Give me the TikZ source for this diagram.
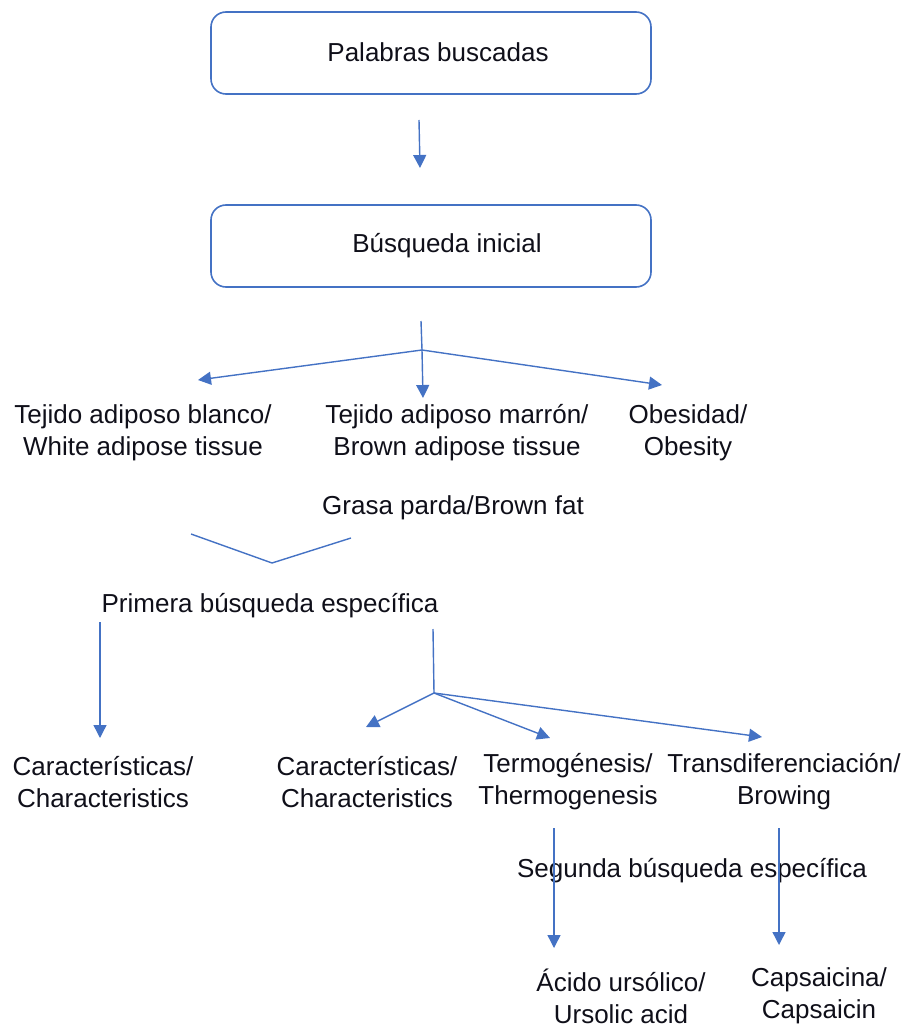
\documentclass[tikz,border=0pt]{standalone}
\usepackage{fontspec}
\setmainfont{Liberation Sans}
\usetikzlibrary{shapes}
\usetikzlibrary{arrows.meta}
\definecolor{lineblue}{RGB}{68,114,196}
\definecolor{textdark}{RGB}{15,15,25}

\begin{document}
\begin{tikzpicture}[x=1pt,y=-1pt]
			\tikzstyle{every node}=[font=\fontsize{26}{32}\selectfont, text=textdark, align=center, inner sep=0pt]
			\tikzstyle{searchbox}=[draw=lineblue, line width=1.6pt, rounded corners=15pt, minimum width=440pt, minimum height=82pt]
			\tikzstyle{flow}=[draw=lineblue, line width=1.4pt, -{Triangle[length=13pt,width=13pt]}]
			\tikzstyle{plain}=[draw=lineblue, line width=1.4pt]

			\useasboundingbox (0,0) rectangle (903,1024);

			% boxes
			\node[searchbox] (palabrasbox) at (431,53) {};
			\node (palabras) at (438,52) {Palabras buscadas};
			\node[searchbox] (inicialbox) at (431,246) {};
			\node (inicial) at (447,246) {Búsqueda inicial};

			% first level
			\node (blanco) at (143,433) {Tejido adiposo blanco/\\White adipose tissue};
			\node (marron) at (457,433) {Tejido adiposo marrón/\\Brown adipose tissue};
			\node (obesidad) at (688,433) {Obesidad/\\Obesity};
			\node (grasa) at (453,508) {Grasa parda/Brown fat};
			\node (primera) at (270,606) {Primera búsqueda específica};

			% second level
			\node (carac1) at (103,782) {Características/\\Characteristics};
			\node (carac2) at (367,782) {Características/\\Characteristics};
			\node (termo) at (568,782) {Termogénesis/\\Thermogenesis};
			\node (trans) at (784,782) {Transdiferenciación/\\Browing};
			\node (segunda) at (692,871) {Segunda búsqueda específica};
			\node (ursolico) at (621,996) {Ácido ursólico/\\Ursolic acid};
			\node (capsaicina) at (819,996) {Capsaicina/\\Capsaicin};

			% connector points
			\coordinate (pstart) at (419,120);
			\coordinate (pend) at (420,168);
			\coordinate (istart) at (421,321);
			\coordinate (ijoin) at (422,350);
			\coordinate (itoblanco) at (198,380);
			\coordinate (itomarron) at (423,398);
			\coordinate (itoobesidad) at (662,385);
			\coordinate (vleft) at (191,534);
			\coordinate (vlow) at (272,563);
			\coordinate (vright) at (351,538);
			\coordinate (lstart) at (100,622);
			\coordinate (lend) at (100,738);
			\coordinate (rstart) at (433,629);
			\coordinate (rjoin) at (434,693);
			\coordinate (rtocarac) at (366,727);
			\coordinate (rtotermo) at (550,738);
			\coordinate (rtotrans) at (762,737);
			\coordinate (tstart) at (554,828);
			\coordinate (tend) at (554,948);
			\coordinate (bstart) at (779,828);
			\coordinate (bend) at (779,945);

			\draw[flow] (pstart) -- (pend);
			\draw[plain] (istart) -- (ijoin);
			\draw[flow] (ijoin) -- (itoblanco);
			\draw[flow] (ijoin) -- (itomarron);
			\draw[flow] (ijoin) -- (itoobesidad);
			\draw[plain] (vleft) -- (vlow) -- (vright);
			\draw[flow] (lstart) -- (lend);
			\draw[plain] (rstart) -- (rjoin);
			\draw[flow] (rjoin) -- (rtocarac);
			\draw[flow] (rjoin) -- (rtotermo);
			\draw[flow] (rjoin) -- (rtotrans);
			\draw[flow] (tstart) -- (tend);
			\draw[flow] (bstart) -- (bend);
\end{tikzpicture}
\end{document}
